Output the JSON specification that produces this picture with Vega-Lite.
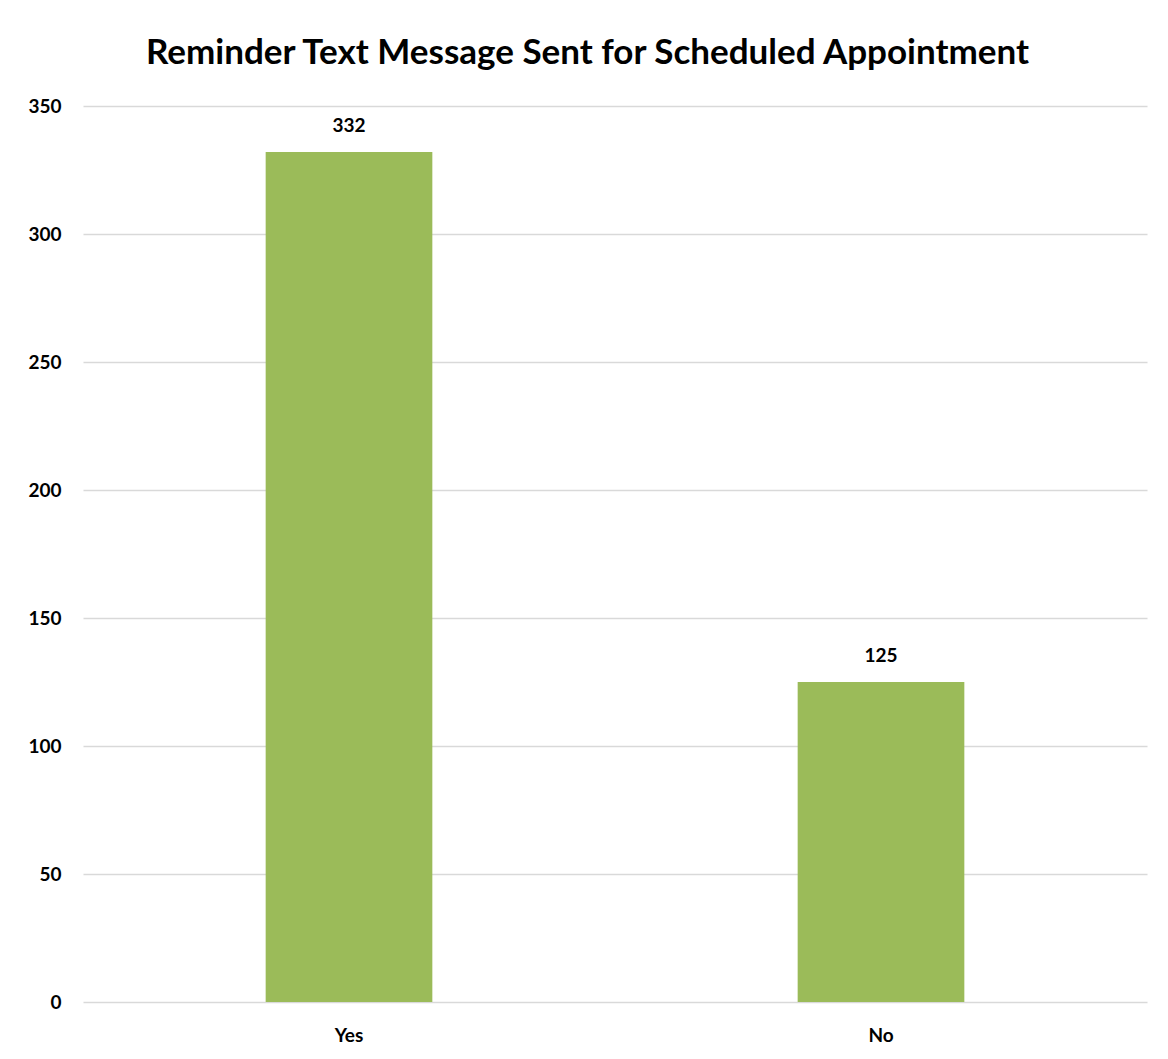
{
  "$schema": "https://vega.github.io/schema/vega-lite/v6.json",
  "autosize": {"type": "none"},
  "padding": {"left": 83, "top": 106, "right": 21, "bottom": 57},
  "width": 1064,
  "height": 896,
  "background": "white",
  "title": {
    "text": "Reminder Text Message Sent for Scheduled Appointment",
    "font": "Lato",
    "fontSize": 35,
    "fontWeight": "bold",
    "color": "#000000",
    "anchor": "middle",
    "frame": "bounds",
    "baseline": "alphabetic",
    "offset": -2
  },
  "data": {
    "values": [
      {"category": "Yes", "count": 332},
      {"category": "No", "count": 125}
    ]
  },
  "encoding": {
    "x": {
      "field": "category",
      "type": "nominal",
      "sort": null,
      "scale": {"paddingInner": 0, "paddingOuter": 0},
      "axis": {
        "title": null,
        "labelAngle": 0,
        "labelFont": "Lato",
        "labelFontSize": 19,
        "labelFontWeight": "bold",
        "labelColor": "#000000",
        "labelPadding": 24,
        "ticks": false,
        "domain": false,
        "grid": false
      }
    },
    "y": {
      "field": "count",
      "type": "quantitative",
      "scale": {"domain": [0, 350]},
      "axis": {
        "title": null,
        "values": [0, 50, 100, 150, 200, 250, 300, 350],
        "labelFont": "Lato",
        "labelFontSize": 19,
        "labelFontWeight": "bold",
        "labelColor": "#000000",
        "labelPadding": 22,
        "ticks": false,
        "domain": false,
        "grid": true,
        "gridColor": "#d9d9d9",
        "gridWidth": 1.3
      }
    }
  },
  "layer": [
    {
      "mark": {"type": "bar", "color": "#9BBB59", "width": {"band": 0.3133}}
    },
    {
      "mark": {
        "type": "text",
        "font": "Lato",
        "fontSize": 19,
        "fontWeight": "bold",
        "color": "#000000",
        "baseline": "alphabetic",
        "dy": -20
      },
      "encoding": {"text": {"field": "count", "type": "quantitative"}}
    }
  ],
  "config": {"view": {"stroke": null}}
}
